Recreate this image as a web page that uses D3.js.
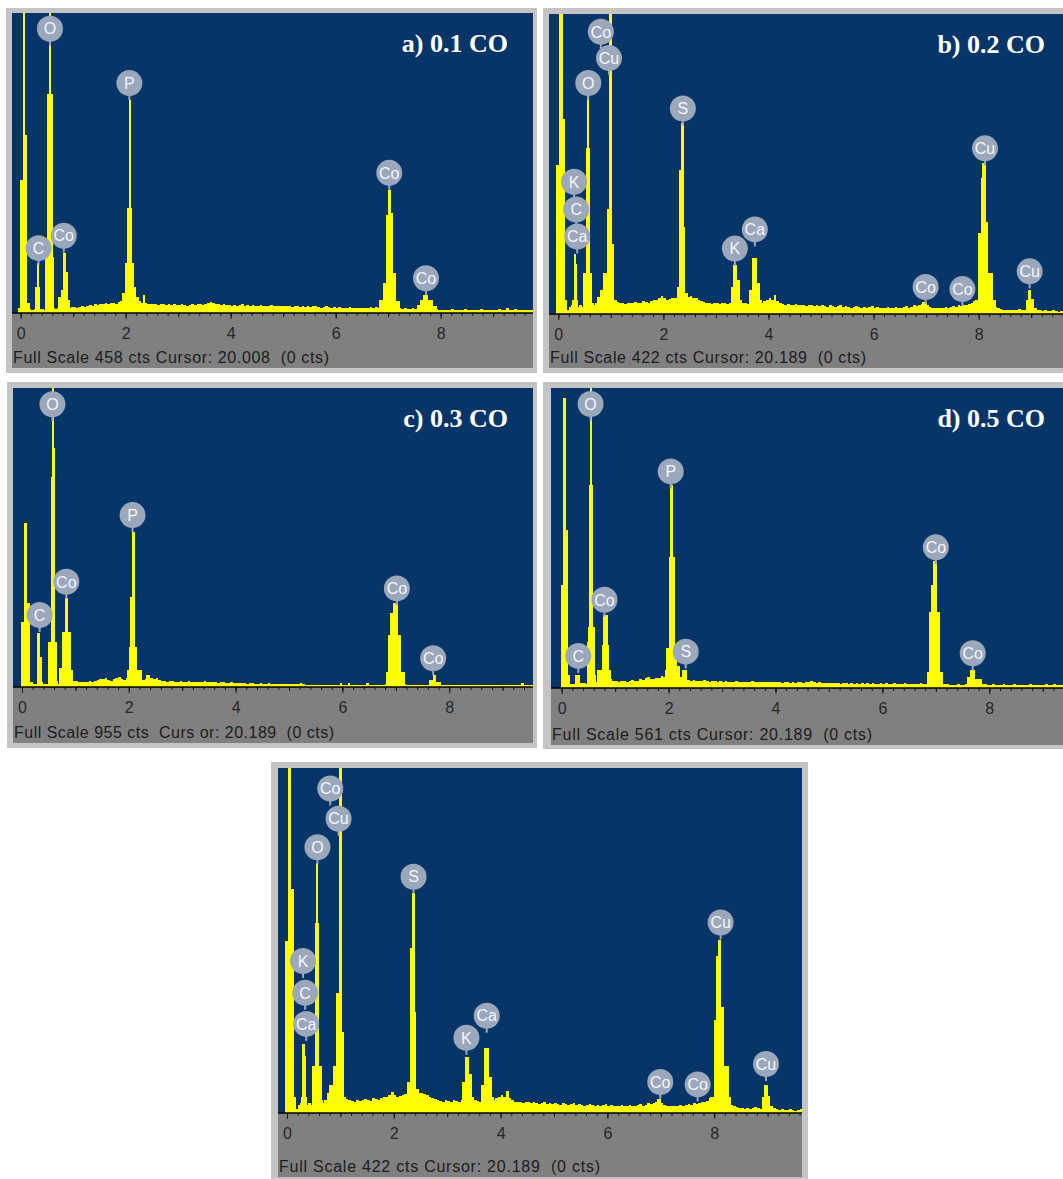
<!DOCTYPE html>
<html>
<head>
<meta charset="utf-8">
<script src="https://cdn.jsdelivr.net/npm/d3@7"></script>
<style>
  body { margin: 0; background: #fff; }
  svg { display: block; }
</style>
</head>
<body>
<div id="viz"></div>
<script>
var width = 1063,
  height = 1179;

// EDS spectra. Background counts: one value per 0.05 keV channel from 0 keV.
var chanWidth = 0.05;

var bgA = [
  4,5,5,6,5,6,7,6,6,5,8,6,7,6,7,8,9,7,8,9,
  9,8,9,10,9,11,12,10,13,12,14,13,15,14,16,15,14,17,18,20,
  22,25,24,22,20,18,16,15,14,13,14,13,12,13,14,12,13,12,13,12,
  12,13,12,11,12,13,12,14,13,12,14,16,17,15,14,13,12,13,12,12,
  11,12,11,12,13,11,12,11,12,10,11,12,11,10,11,12,10,11,10,11,
  10,11,10,9,10,11,9,10,9,10,9,11,10,9,8,9,10,9,8,9,
  8,9,8,7,8,9,7,8,7,8,8,7,8,9,8,9,8,9,8,7,
  8,7,6,6,7,6,7,6,6,7,6,7,8,9,10,10,9,7,6,5,
  5,4,5,4,6,4,5,4,5,6,4,5,4,5,4,6,5,4,5,4,
  5,4,6,4,5,7,4,5,6,4,5,4,5,4,4,5,4
];
var bgB = [
  10,8,6,5,10,12,8,10,12,10,12,14,10,12,16,18,22,24,20,18,
  20,18,17,16,15,14,16,15,16,17,16,15,18,17,16,18,19,20,22,26,
  22,20,21,22,23,20,18,20,22,24,25,23,22,20,18,17,16,15,14,16,
  15,14,16,15,14,16,20,22,20,18,16,15,14,18,20,22,18,16,18,20,
  22,20,27,18,16,14,13,14,12,13,14,12,13,12,11,12,13,11,12,11,
  12,11,10,12,11,10,11,12,10,11,10,9,10,11,10,9,10,9,10,11,
  9,10,9,8,9,10,8,9,10,8,9,10,11,9,10,12,11,12,14,13,
  12,10,9,8,9,8,9,10,9,10,11,10,12,11,12,13,14,15,18,20,
  20,20,20,20,20,15,10,8,7,6,6,5,6,5,6,7,6,5,8,10,
  12,8,6,5,4,5,4,4,5,4,3,4,5,4,3,4,4
];
var bgC = [
  10,8,6,8,10,9,8,10,9,8,12,10,9,10,12,14,16,18,17,19,
  18,16,17,15,16,18,17,20,22,25,24,30,22,20,24,28,32,25,22,30,
  40,36,30,28,25,22,24,26,30,25,28,22,20,18,17,19,18,17,16,18,
  17,16,18,17,16,15,17,16,18,15,16,17,15,14,16,15,14,13,15,14,
  13,12,14,12,11,13,12,10,11,12,10,11,12,10,9,10,11,9,10,8,
  9,8,10,8,12,9,7,6,5,5,6,5,5,6,5,6,5,6,5,12,
  5,5,12,6,5,5,5,5,5,12,5,5,5,5,5,6,10,20,30,40,
  40,30,20,8,6,5,5,5,5,5,5,5,6,8,10,12,10,6,5,5,
  5,5,6,5,5,5,6,5,5,5,5,5,5,5,6,5,5,5,6,5,
  5,5,5,6,5,5,5,12,5,5,6,5,5,5,10,5,5
];
var bgD = [
  10,8,6,7,8,10,12,10,9,8,10,9,10,12,14,12,13,15,16,14,
  13,12,14,13,12,14,15,13,14,16,15,18,20,16,17,19,18,22,20,25,
  30,28,25,22,20,18,16,15,14,15,14,13,14,15,13,12,14,13,12,13,
  12,13,12,11,12,13,12,11,12,12,11,13,12,11,12,11,12,11,12,11,
  11,12,10,11,12,10,11,10,11,12,10,11,12,13,11,10,11,10,9,10,
  10,9,10,9,8,9,10,8,9,8,9,8,9,8,9,8,9,8,8,9,
  8,9,8,8,9,8,7,8,9,8,7,8,8,7,9,8,8,9,10,12,
  12,10,8,7,7,6,6,6,7,6,6,8,10,12,15,12,10,8,7,6,
  6,7,6,5,6,7,6,5,6,7,6,5,6,6,5,7,6,5,6,5,
  6,7,5,6,8,5,6,5,9,6,5,6,5,7,6,5,6
];

// Peaks as step points [keV, counts]; each count holds until the next point.
var peaksA = [
  [-0.05,8],[-0.013,203],[0.038,700],[0.088,272],[0.126,15],[0.177,0],
  [0.272,40],[0.305,76],[0.343,40],[0.373,0],
  [0.47,86],[0.50,334],[0.535,700],[0.58,334],[0.61,86],[0.64,0],
  [0.716,25],[0.768,35],[0.811,92],[0.857,63],[0.895,20],[0.939,0],
  [1.92,30],[1.99,76],[2.02,160],[2.055,325],[2.10,160],[2.125,76],[2.15,40],[2.2,25],[2.26,0],
  [2.33,28],[2.37,0],
  [6.83,20],[6.91,46],[6.95,150],[6.99,188],[7.05,153],[7.09,61],[7.15,18],[7.23,0],
  [7.55,12],[7.6,20],[7.67,28],[7.75,20],[7.85,10],[7.92,0]
];
var peaksB = [
  [-0.04,210],[0.013,700],[0.083,274],[0.127,20],[0.16,0],
  [0.27,20],[0.29,85],[0.33,70],[0.36,20],[0.38,0],
  [0.476,58],[0.52,233],[0.55,306],[0.58,233],[0.60,58],[0.647,16],[0.68,0],
  [0.74,24],[0.79,34],[0.856,58],[0.92,147],[0.965,700],[1.03,99],[1.06,20],[1.11,0],
  [2.25,38],[2.30,202],[2.34,269],[2.39,123],[2.42,29],[2.47,0],
  [3.28,38],[3.33,69],[3.41,48],[3.46,20],[3.5,0],
  [3.63,34],[3.69,79],[3.78,44],[3.84,20],[3.88,0],
  [6.92,17],[7.01,0],
  [7.93,20],[7.99,114],[8.04,192],[8.07,212],[8.13,130],[8.18,58],[8.28,20],[8.32,0],
  [8.9,20],[8.94,34],[9.0,21],[9.05,0]
];
var peaksC = [
  [-0.01,208],[0.045,524],[0.092,269],[0.156,17],[0.2,0],
  [0.285,171],[0.33,97],[0.375,17],[0.4,0],
  [0.49,145],[0.535,671],[0.56,1200],[0.59,762],[0.62,145],[0.65,20],[0.68,0],
  [0.685,60],[0.75,176],[0.80,283],[0.867,176],[0.91,54],[0.957,0],
  [1.96,54],[2.0,129],[2.03,288],[2.06,495],[2.12,129],[2.16,54],[2.24,0],
  [2.33,38],[2.40,0],
  [6.81,49],[6.85,166],[6.90,235],[6.95,269],[7.05,166],[7.09,49],[7.18,0],
  [7.63,22],[7.69,38],[7.76,17],[7.84,0]
];
var peaksD = [
  [-0.02,192],[0.03,542],[0.08,295],[0.125,24],[0.156,0],
  [0.25,24],[0.34,0],
  [0.47,86],[0.50,114],[0.52,379],[0.53,700],[0.57,379],[0.59,114],[0.62,24],[0.65,0],
  [0.667,33],[0.75,80],[0.78,137],[0.86,80],[0.89,33],[0.92,0],
  [1.93,33],[1.96,75],[2.0,245],[2.03,379],[2.09,245],[2.12,75],[2.15,42],[2.21,0],
  [2.26,34],[2.34,0],
  [6.83,30],[6.88,142],[6.9,192],[6.95,237],[7.03,142],[7.08,30],[7.14,0],
  [7.58,21],[7.64,34],[7.73,17],[7.86,0]
];

// element markers [element, keV, counts at marker centre]
var labelsA = [["O",0.558,434],["C",0.34,99],["Co",0.82,118],["P",2.07,351],["Co",7.02,214],["Co",7.72,53]];
var labelsB = [["Co",0.81,397],["Cu",0.965,360],["O",0.57,325],["K",0.30,186],["C",0.34,147],["Ca",0.36,109],
  ["S",2.37,289],["K",3.36,92],["Ca",3.74,119],["Co",6.99,38],["Co",7.69,35],["Cu",8.12,233],["Cu",8.97,60]];
var labelsC = [["O",0.57,903],["Co",0.83,336],["C",0.33,230],["P",2.07,549],["Co",7.02,315],["Co",7.7,92]];
var labelsD = [["O",0.54,531],["Co",0.80,165],["C",0.31,60],["P",2.04,405],["S",2.32,68],["Co",7.0,263],["Co",7.69,65]];

var fullScale = [458, 422, 955, 561, 422];
var titles = ["a) 0.1 CO", "b) 0.2 CO", "c) 0.3 CO", "d) 0.5 CO", ""];
var footers = [
  "Full Scale 458 cts Cursor: 20.008  (0 cts)",
  "Full Scale 422 cts Cursor: 20.189  (0 cts)",
  "Full Scale 955 cts  Curs or: 20.189  (0 cts)",
  "Full Scale 561 cts Cursor: 20.189  (0 cts)",
  "Full Scale 422 cts Cursor: 20.189  (0 cts)"
];
var tickLabels = [0, 2, 4, 6, 8];

var panels = [
  {id: 'a', bg: bgA, peaks: peaksA, labels: labelsA, frame: [6, 8, 537, 373],
   left: 12, top: 13, right: 533, base: 313, bottom: 368, zero: 20.7, ppk: 52.5, footW: 316},
  {id: 'b', bg: bgB, peaks: peaksB, labels: labelsB, frame: [543, 8, 1076, 373],
   left: 549, top: 14, right: 1070, base: 314, bottom: 368, zero: 558.3, ppk: 52.55, footW: 316},
  {id: 'c', bg: bgC, peaks: peaksC, labels: labelsC, frame: [7, 382, 537, 748],
   left: 13, top: 388, right: 533, base: 687, bottom: 743, zero: 22, ppk: 53.4, footW: 320},
  {id: 'd', bg: bgD, peaks: peaksD, labels: labelsD, frame: [543, 382, 1076, 749],
   left: 551, top: 388, right: 1070, base: 688, bottom: 745, zero: 561.7, ppk: 53.45, footW: 320},
  {id: 'e', bg: bgB, peaks: peaksB, labels: labelsB, frame: [271, 762, 808, 1182],
   left: 278, top: 768, right: 802, base: 1113, bottom: 1177, zero: 287, ppk: 53.4, footW: 321}
];

var svg = d3.select('#viz').append('svg')
  .attr('width', width)
  .attr('height', height);

svg.append('rect')
  .attr('width', width)
  .attr('height', height)
  .attr('fill', '#ffffff');

var defs = svg.append('defs');

panels.forEach(function (p, i) {
  p.fs = fullScale[i];
  p.title = titles[i];
  p.footer = footers[i];
  drawPanel(p);
});

function drawPanel(p) {
  var g = svg.append('g');

  g.append('rect')
    .attr('x', p.frame[0])
    .attr('y', p.frame[1])
    .attr('width', p.frame[2] - p.frame[0])
    .attr('height', p.frame[3] - p.frame[1])
    .attr('fill', '#c4c4c4');

  g.append('rect')
    .attr('x', p.left)
    .attr('y', p.base)
    .attr('width', p.right - p.left)
    .attr('height', p.bottom - p.base)
    .attr('fill', '#808080');

  g.append('rect')
    .attr('x', p.left)
    .attr('y', p.top)
    .attr('width', p.right - p.left)
    .attr('height', p.base - p.top)
    .attr('fill', '#083567');

  var x = d3.scaleLinear()
    .domain([(p.left - p.zero) / p.ppk, (p.right - p.zero) / p.ppk])
    .range([p.left, p.right]);
  var y = d3.scaleLinear()
    .domain([0, p.fs])
    .range([p.base, p.top]);

  defs.append('clipPath')
    .attr('id', 'clip-' + p.id)
    .append('rect')
    .attr('x', p.left)
    .attr('y', p.top)
    .attr('width', p.right - p.left)
    .attr('height', p.base - p.top);

  var area = d3.area()
    .curve(d3.curveStepAfter)
    .x(function (d) { return x(d[0]); })
    .y0(p.base)
    .y1(function (d) { return y(d[1]); });

  var bgPts = p.bg.map(function (v, k) { return [k * chanWidth, v]; });
  bgPts.push([p.bg.length * chanWidth, 0]);

  var plot = g.append('g').attr('clip-path', 'url(#clip-' + p.id + ')');
  plot.append('path')
    .datum(bgPts)
    .attr('d', area)
    .attr('fill', '#ffff00')
    .attr('shape-rendering', 'crispEdges');
  plot.append('path')
    .datum(p.peaks)
    .attr('d', area)
    .attr('fill', '#ffff00')
    .attr('shape-rendering', 'crispEdges');

  // axis: minor ticks every 0.2 keV, longer at whole keV, numbered every 2 keV
  var dom = x.domain();
  var inside = function (v) { return v >= dom[0] && v <= dom[1]; };
  var minor = d3.range(0, 50).map(function (k) { return k / 5; }).filter(inside);
  var whole = d3.range(0, 10).filter(inside);

  var axG = g.append('g')
    .attr('transform', 'translate(0,' + p.base + ')')
    .attr('color', '#1a1a1a');

  axG.append('g').call(d3.axisBottom(x).tickValues(minor).tickSize(3).tickSizeOuter(0).tickFormat(''));
  axG.append('g').call(d3.axisBottom(x).tickValues(whole).tickSize(4).tickSizeOuter(0).tickFormat(''));
  var numbered = axG.append('g').call(d3.axisBottom(x)
    .tickValues(tickLabels.filter(inside))
    .tickSize(6)
    .tickSizeOuter(0)
    .tickPadding(9)
    .tickFormat(d3.format('d')));
  numbered.selectAll('text')
    .attr('font-size', 16)
    .attr('font-family', '"Liberation Sans", Arial, sans-serif')
    .attr('fill', '#262626');
  axG.selectAll('.domain').remove();
  axG.append('line')
    .attr('x1', p.left)
    .attr('x2', p.right)
    .attr('stroke', '#000')
    .attr('stroke-width', 1.5);

  // element markers
  var mk = g.selectAll('.marker')
    .data(p.labels)
    .join('g')
    .attr('class', 'marker')
    .attr('transform', function (d) { return 'translate(' + x(d[1]) + ',' + y(d[2]) + ')'; });
  mk.append('rect')
    .attr('x', -1)
    .attr('y', 10)
    .attr('width', 2)
    .attr('height', 7)
    .attr('fill', '#9ba7bb');
  mk.append('circle')
    .attr('r', 13)
    .attr('fill', '#9ba7bb');
  mk.append('text')
    .attr('text-anchor', 'middle')
    .attr('dy', '0.36em')
    .attr('font-size', 16)
    .attr('font-family', '"Liberation Sans", Arial, sans-serif')
    .attr('fill', '#f3f6fb')
    .text(function (d) { return d[0]; });

  if (p.title) {
    g.append('text')
      .attr('x', p.right - 25)
      .attr('y', p.top + 39)
      .attr('text-anchor', 'end')
      .attr('font-family', '"Liberation Serif", "Times New Roman", serif')
      .attr('font-weight', 'bold')
      .attr('font-size', 26)
      .attr('fill', '#ffffff')
      .text(p.title);
  }

  g.append('text')
    .attr('x', p.left + 1)
    .attr('y', p.bottom - 5)
    .attr('font-family', '"Liberation Sans", Arial, sans-serif')
    .attr('font-size', 16)
    .attr('fill', '#1c1c1c')
    .attr('textLength', p.footW)
    .attr('lengthAdjust', 'spacing')
    .style('white-space', 'pre')
    .text(p.footer);
}
</script>
</body>
</html>
